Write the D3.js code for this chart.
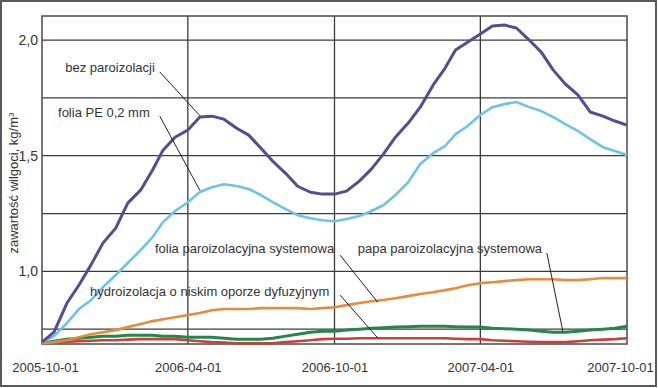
<!DOCTYPE html>
<html>
<head>
<meta charset="utf-8">
<script src="https://cdn.jsdelivr.net/npm/d3@7"></script>
<style>
    body { margin: 0; background: #fff; }
    #chart { width: 658px; height: 388px; display: block; }
    text { font-family: "Liberation Sans", Arial, sans-serif; fill: #333; }
</style>
</head>
<body>
<svg id="chart" width="658" height="388"></svg>
<script>
// half-month sample dates
var dates = [
    "2005-10-01", "2005-10-16", "2005-11-01", "2005-11-16", "2005-12-01", "2005-12-16",
    "2006-01-01", "2006-01-16", "2006-02-01", "2006-02-16", "2006-03-01", "2006-03-16",
    "2006-04-01", "2006-04-16", "2006-05-01", "2006-05-16", "2006-06-01", "2006-06-16",
    "2006-07-01", "2006-07-16", "2006-08-01", "2006-08-16", "2006-09-01", "2006-09-16",
    "2006-10-01", "2006-10-16", "2006-11-01", "2006-11-16", "2006-12-01", "2006-12-16",
    "2007-01-01", "2007-01-16", "2007-02-01", "2007-02-16", "2007-03-01", "2007-03-16",
    "2007-04-01", "2007-04-16", "2007-05-01", "2007-05-16", "2007-06-01", "2007-06-16",
    "2007-07-01", "2007-07-16", "2007-08-01", "2007-08-16", "2007-09-01", "2007-09-16",
    "2007-10-01"
];

var bezParoizolacji = [0.694, 0.737, 0.862, 0.940, 1.027, 1.122, 1.187, 1.295, 1.351, 1.438, 1.524, 1.580,
    1.611, 1.667, 1.671, 1.658, 1.619, 1.589, 1.533, 1.476, 1.424, 1.368, 1.342, 1.334,
    1.334, 1.347, 1.390, 1.442, 1.507, 1.580, 1.641, 1.710, 1.805, 1.879, 1.957, 1.991,
    2.026, 2.061, 2.065, 2.052, 2.000, 1.948, 1.870, 1.810, 1.762, 1.689, 1.671, 1.650, 1.632];

var foliaPE = [0.694, 0.720, 0.776, 0.837, 0.875, 0.932, 0.984, 1.036, 1.092, 1.148, 1.213, 1.261,
    1.299, 1.343, 1.364, 1.377, 1.369, 1.356, 1.330, 1.299, 1.269, 1.243, 1.230, 1.221,
    1.217, 1.226, 1.239, 1.261, 1.286, 1.330, 1.386, 1.464, 1.511, 1.542, 1.593, 1.628,
    1.676, 1.710, 1.723, 1.732, 1.710, 1.693, 1.667, 1.637, 1.606, 1.572, 1.537, 1.520, 1.503];

var foliaSystemowa = [0.689, 0.694, 0.702, 0.715, 0.728, 0.737, 0.746, 0.759, 0.772, 0.785, 0.793, 0.802,
    0.811, 0.820, 0.832, 0.837, 0.837, 0.837, 0.841, 0.841, 0.841, 0.841, 0.837, 0.841,
    0.845, 0.854, 0.863, 0.871, 0.876, 0.884, 0.893, 0.902, 0.910, 0.919, 0.927, 0.940,
    0.949, 0.953, 0.958, 0.962, 0.966, 0.966, 0.966, 0.962, 0.962, 0.966, 0.971, 0.971, 0.971];

var papaSystemowa = [0.689, 0.698, 0.707, 0.711, 0.715, 0.720, 0.720, 0.724, 0.724, 0.724, 0.720, 0.720,
    0.715, 0.715, 0.715, 0.711, 0.707, 0.707, 0.707, 0.711, 0.720, 0.728, 0.737, 0.741,
    0.741, 0.746, 0.750, 0.754, 0.756, 0.759, 0.761, 0.763, 0.763, 0.763, 0.761, 0.759,
    0.759, 0.754, 0.752, 0.750, 0.746, 0.741, 0.737, 0.737, 0.741, 0.746, 0.750, 0.754, 0.763];

var hydroizolacja = [0.689, 0.694, 0.696, 0.698, 0.700, 0.702, 0.702, 0.705, 0.707, 0.707, 0.707, 0.707,
    0.702, 0.698, 0.694, 0.692, 0.689, 0.689, 0.689, 0.689, 0.694, 0.698, 0.702, 0.707,
    0.709, 0.709, 0.711, 0.711, 0.711, 0.711, 0.711, 0.711, 0.711, 0.711, 0.709, 0.707,
    0.707, 0.702, 0.700, 0.698, 0.696, 0.694, 0.694, 0.694, 0.698, 0.702, 0.705, 0.707, 0.711];

var xTickDates = ["2005-10-01", "2006-04-01", "2006-10-01", "2007-04-01", "2007-10-01"];
var yTickValues = [1.0, 1.5, 2.0];
var yGridValues = [0.75, 1.0, 1.25, 1.5, 1.75, 2.0];

// callouts: label, where the text sits, leader line start/end (date, value)
var calloutLabels = ["bez paroizolacji", "folia PE 0,2 mm", "folia paroizolacyjna systemowa",
    "papa paroizolacyjna systemowa", "hydroizolacja o niskim oporze dyfuzyjnym"];
var calloutTextAt = [["2005-10-30", 1.864], ["2005-10-21", 1.669], ["2006-02-19", 1.081],
    ["2006-10-30", 1.081], ["2005-11-30", 0.895]];
var leaderFrom = [["2006-02-25", 1.862], ["2006-02-25", 1.671], ["2006-10-08", 1.070],
    ["2007-06-23", 1.079], ["2006-10-08", 0.897]];
var leaderTo = [["2006-04-16", 1.673], ["2006-04-16", 1.350], ["2006-11-24", 0.866],
    ["2007-07-13", 0.740], ["2006-11-24", 0.712]];

function MoistureChart(id) {
    var self = this;
    self.svg = d3.select(`#${id}`);
    self.init();
}

MoistureChart.prototype.init = function () {
    var self = this;
    var parse = d3.timeParse("%Y-%m-%d");

    self.margin = { left: 42, right: 31, top: 16, bottom: 44 };
    self.width = 658;
    self.height = 388;

    var x = d3.scaleTime()
        .domain([parse("2005-10-01"), parse("2007-10-01")])
        .range([self.margin.left, self.width - self.margin.right]);
    var y = d3.scaleLinear()
        .domain([0.686, 2.104])
        .range([self.height - self.margin.bottom, self.margin.top]);

    // outer border of the picture
    self.svg.append("rect")
        .attr("x", 1).attr("y", 1).attr("width", 655).attr("height", 385)
        .attr("fill", "none").attr("stroke", "#5a5a5a").attr("stroke-width", 2);

    var grid = self.svg.append("g").attr("stroke", "#3c3c3c").attr("stroke-width", 1.3);
    grid.selectAll("line.h")
        .data(yGridValues)
        .enter().append("line")
        .attr("class", "h")
        .attr("x1", x.range()[0]).attr("x2", x.range()[1])
        .attr("y1", d => y(d)).attr("y2", d => y(d));
    grid.selectAll("line.v")
        .data(xTickDates.slice(1, -1))
        .enter().append("line")
        .attr("class", "v")
        .attr("x1", d => x(parse(d))).attr("x2", d => x(parse(d)))
        .attr("y1", y.range()[0]).attr("y2", y.range()[1]);

    // plot frame
    self.svg.append("rect")
        .attr("x", x.range()[0]).attr("y", y.range()[1])
        .attr("width", x.range()[1] - x.range()[0])
        .attr("height", y.range()[0] - y.range()[1])
        .attr("fill", "none").attr("stroke", "#4a4a4a").attr("stroke-width", 1.5);

    // axes
    var yAxis = d3.axisLeft(y)
        .tickValues(yTickValues)
        .tickSize(0).tickPadding(4)
        .tickFormat(d => d3.format(".1f")(d).replace(".", ","));
    var gy = self.svg.append("g")
        .attr("transform", `translate(${x.range()[0]},0)`)
        .call(yAxis);
    gy.select(".domain").remove();
    gy.selectAll("text").attr("font-size", 14).attr("fill", "#333")
        .style("font-family", '"Liberation Sans", Arial, sans-serif');

    var xAxis = d3.axisBottom(x)
        .tickValues(xTickDates.map(parse))
        .tickSize(0).tickPadding(19)
        .tickFormat(d3.timeFormat("%Y-%m-%d"));
    var gx = self.svg.append("g")
        .attr("transform", `translate(0,${y.range()[0]})`)
        .call(xAxis);
    gx.select(".domain").remove();
    gx.selectAll("text").attr("font-size", 13).attr("fill", "#333")
        .style("font-family", '"Liberation Sans", Arial, sans-serif')
        .attr("dx", (d, i) => i == 0 ? 3 : (i == xTickDates.length - 1 ? -7 : 0));

    // y title
    var title = self.svg.append("text")
        .attr("transform", `translate(18,${(y.range()[0] + y.range()[1]) / 2 + 3}) rotate(-90)`)
        .attr("text-anchor", "middle")
        .attr("font-size", 13);
    title.append("tspan").text("zawartość wilgoci, kg/m");
    title.append("tspan").attr("font-size", 8).attr("baseline-shift", "super").text("3");

    // series
    var series = [
        { values: hydroizolacja, color: "#c4423a", width: 2.6 },
        { values: papaSystemowa, color: "#23874a", width: 3 },
        { values: foliaSystemowa, color: "#e68d3c", width: 2.6 },
        { values: foliaPE, color: "#6cc4e9", width: 2.6 },
        { values: bezParoizolacji, color: "#574c92", width: 3 }
    ];

    var line = d3.line()
        .x((d, i) => x(parse(dates[i])))
        .y(d => y(d));

    self.svg.append("g").selectAll("path")
        .data(series)
        .enter().append("path")
        .attr("d", d => line(d.values))
        .attr("fill", "none")
        .attr("stroke", d => d.color)
        .attr("stroke-width", d => d.width)
        .attr("stroke-linejoin", "round");

    // callouts
    var cg = self.svg.append("g");
    cg.selectAll("line")
        .data(calloutLabels)
        .enter().append("line")
        .attr("x1", (d, i) => x(parse(leaderFrom[i][0])))
        .attr("y1", (d, i) => y(leaderFrom[i][1]))
        .attr("x2", (d, i) => x(parse(leaderTo[i][0])))
        .attr("y2", (d, i) => y(leaderTo[i][1]))
        .attr("stroke", "#222").attr("stroke-width", 1);
    cg.selectAll("text")
        .data(calloutLabels)
        .enter().append("text")
        .attr("x", (d, i) => x(parse(calloutTextAt[i][0])))
        .attr("y", (d, i) => y(calloutTextAt[i][1]))
        .attr("font-size", 13)
        .text(d => d);
};

var chart = new MoistureChart("chart");
</script>
</body>
</html>
